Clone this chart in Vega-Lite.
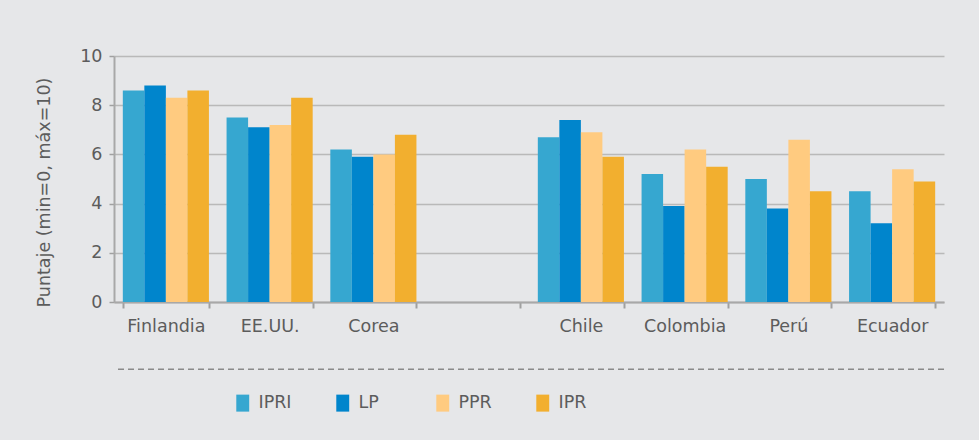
{
  "$schema": "https://vega.github.io/schema/vega-lite/v6.json",
  "width": 830,
  "height": 246,
  "autosize": {"type": "none"},
  "padding": {"left": 114, "top": 56, "right": 35, "bottom": 138},
  "background": "#E6E7E9",
  "config": {
    "view": {"stroke": null},
    "font": "DejaVu Sans",
    "axis": {"labelFont": "DejaVu Sans", "titleFont": "DejaVu Sans", "labelColor": "#5c5c5c", "titleColor": "#5c5c5c"}
  },
  "datasets": {
    "scores": [
      {"pais": "Finlandia", "serie": "IPRI", "valor": 8.6},
      {"pais": "Finlandia", "serie": "LP", "valor": 8.8},
      {"pais": "Finlandia", "serie": "PPR", "valor": 8.3},
      {"pais": "Finlandia", "serie": "IPR", "valor": 8.6},
      {"pais": "EE.UU.", "serie": "IPRI", "valor": 7.5},
      {"pais": "EE.UU.", "serie": "LP", "valor": 7.1},
      {"pais": "EE.UU.", "serie": "PPR", "valor": 7.2},
      {"pais": "EE.UU.", "serie": "IPR", "valor": 8.3},
      {"pais": "Corea", "serie": "IPRI", "valor": 6.2},
      {"pais": "Corea", "serie": "LP", "valor": 5.9},
      {"pais": "Corea", "serie": "PPR", "valor": 6.0},
      {"pais": "Corea", "serie": "IPR", "valor": 6.8},
      {"pais": "Chile", "serie": "IPRI", "valor": 6.7},
      {"pais": "Chile", "serie": "LP", "valor": 7.4},
      {"pais": "Chile", "serie": "PPR", "valor": 6.9},
      {"pais": "Chile", "serie": "IPR", "valor": 5.9},
      {"pais": "Colombia", "serie": "IPRI", "valor": 5.2},
      {"pais": "Colombia", "serie": "LP", "valor": 3.9},
      {"pais": "Colombia", "serie": "PPR", "valor": 6.2},
      {"pais": "Colombia", "serie": "IPR", "valor": 5.5},
      {"pais": "Perú", "serie": "IPRI", "valor": 5.0},
      {"pais": "Perú", "serie": "LP", "valor": 3.8},
      {"pais": "Perú", "serie": "PPR", "valor": 6.6},
      {"pais": "Perú", "serie": "IPR", "valor": 4.5},
      {"pais": "Ecuador", "serie": "IPRI", "valor": 4.5},
      {"pais": "Ecuador", "serie": "LP", "valor": 3.2},
      {"pais": "Ecuador", "serie": "PPR", "valor": 5.4},
      {"pais": "Ecuador", "serie": "IPR", "valor": 4.9}
    ],
    "separador": [{"y": -2.73}]
  },
  "layer": [
    {
      "data": {"name": "scores"},
      "mark": {"type": "bar"},
      "encoding": {
        "x": {
          "field": "pais",
          "type": "nominal",
          "scale": {
            "domain": ["Finlandia", "EE.UU.", "Corea", " ", "Chile", "Colombia", "Perú", "Ecuador"],
            "paddingInner": 0.17,
            "paddingOuter": 0.085
          },
          "axis": {
            "title": null,
            "labelAngle": 0,
            "labelFontSize": 17.5,
            "labelPadding": 9,
            "tickBand": "extent",
            "tickSize": 6,
            "tickColor": "#a0a0a0",
            "tickWidth": 2,
            "domainColor": "#a8a8a8",
            "domainWidth": 2
          }
        },
        "xOffset": {
          "field": "serie",
          "type": "nominal",
          "sort": ["IPRI", "LP", "PPR", "IPR"],
          "scale": {"paddingInner": 0, "paddingOuter": 0}
        },
        "y": {
          "field": "valor",
          "type": "quantitative",
          "scale": {"domain": [0, 10], "nice": false},
          "axis": {
            "title": "Puntaje (min=0, máx=10)",
            "titleFontSize": 17.5,
            "titleFontWeight": "normal",
            "titlePadding": 26,
            "titleY": 136,
            "values": [0, 2, 4, 6, 8, 10],
            "labelFontSize": 17.5,
            "labelPadding": 7,
            "tickSize": 5,
            "tickColor": "#a0a0a0",
            "tickWidth": 1.5,
            "domainColor": "#a8a8a8",
            "domainWidth": 2,
            "grid": true,
            "gridColor": "#b9b9b9",
            "gridWidth": 1.5
          }
        },
        "color": {
          "field": "serie",
          "type": "nominal",
          "scale": {
            "domain": ["IPRI", "LP", "PPR", "IPR"],
            "range": ["#36A7D0", "#0085CC", "#FFCB80", "#F2AF2F"]
          },
          "legend": {
            "title": null,
            "orient": "none",
            "legendX": 120,
            "legendY": 338,
            "direction": "horizontal",
            "columns": 4,
            "gridAlign": "all",
            "columnPadding": 42,
            "symbolType": "M-0.76,-1H0.76V1H-0.76Z",
            "symbolSize": 289,
            "symbolStrokeWidth": 0,
            "symbolOffset": 0,
            "labelFontSize": 17.5,
            "labelFont": "DejaVu Sans",
            "labelColor": "#5c5c5c",
            "labelOffset": 7
          }
        }
      }
    },
    {
      "data": {"name": "separador"},
      "mark": {"type": "rule", "strokeDash": [6, 4], "color": "#8a8a8a", "strokeWidth": 1.5},
      "encoding": {
        "y": {"field": "y", "type": "quantitative"}
      }
    }
  ]
}
